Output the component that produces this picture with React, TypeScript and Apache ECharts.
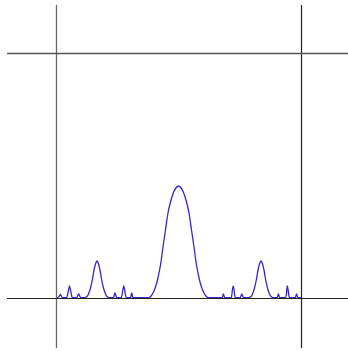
import React, { useEffect, useRef } from "react";
import * as echarts from "echarts";

// Frame (box) limits in data units
const frameX = [-122.5, 122.5];
const frameY = [0, 245];

// Intensity profile: x positions and intensities
const xs = [
  -122.5, -121, -119.5, -118.2, -117, -115.5,
  -112, -111, -110, -109, -108, -107, -106,
  -102, -100.8, -99.8, -98.8, -97.5,
  -94, -91.5, -90, -88, -86, -84.5, -83, -81.5, -80, -78.5, -77, -75, -73, -71.5, -69,
  -65, -64.5, -63.5, -62.5, -61.5,
  -57.5, -56.5, -55.5, -54.8, -54, -53, -52,
  -48, -47.5, -46.8, -46, -45.3,
  -32, -29.5, -27, -25, -23, -21, -18, -15.5, -13, -10.5, -8, -5.2, -2.5,
  0, 2.5, 5.2, 8, 10.5, 13, 15.5, 18, 21, 23, 25, 27, 29.5, 32,
  43.5, 44.2, 44.9, 45.6, 46.3,
  52.5, 53.3, 54, 54.7, 55.4, 56.2, 57,
  61.5, 62.4, 63.3, 64.2, 65,
  70, 72.5, 74, 76, 78, 79.5, 81, 82.5, 84, 85.5, 87, 89, 91, 92.5, 95,
  98.5, 99.2, 99.9, 100.6, 101.3,
  106.8, 107.8, 108.3, 108.9, 109.5, 110.3, 111.3,
  116.8, 117.4, 118.1, 118.8, 119.5,
  122.5,
];
const intensity = [
  0.3, 0.3, 1.5, 3.5, 1.5, 0.3,
  0.3, 3, 8, 12, 8, 3, 0.3,
  0.3, 2, 4, 2, 0.3,
  0.3, 1.5, 4, 10, 19, 28, 34, 37, 34, 28, 19, 10, 4, 1.5, 0.3,
  0.3, 2, 5, 2, 0.3,
  0.3, 3, 9, 12, 9, 3, 0.3,
  0.3, 2, 5, 2, 0.3,
  0.3, 0.5, 2.5, 6, 11, 18, 33, 51, 68, 85, 96, 105, 110,
  112, 110, 105, 96, 85, 68, 51, 33, 18, 11, 6, 2.5, 0.5, 0.3,
  0.3, 2, 4, 2, 0.3,
  0.3, 3, 9, 12, 9, 3, 0.3,
  0.3, 2, 4, 2, 0.3,
  0.3, 1.5, 4, 10, 19, 28, 34, 37, 34, 28, 19, 10, 4, 1.5, 0.3,
  0.3, 2, 4, 2, 0.3,
  0.3, 3, 9, 12, 9, 3, 0.3,
  0.3, 2, 4, 2, 0.3,
  0.3,
];

export default function App() {
  const ref = useRef<HTMLDivElement>(null);
  useEffect(() => {
    if (!ref.current) return;
    const chart = echarts.init(ref.current, null, { renderer: "svg" });
    const data = xs.map((x, i) => [x, intensity[i]]);
    chart.setOption({
      animation: false,
      grid: { left: 7, right: 0, top: 5, bottom: 3 },
      xAxis: {
        type: "value",
        min: frameX[0] - 49,
        max: frameX[1] + 47,
        show: false,
      },
      yAxis: {
        type: "value",
        min: frameY[0] - 50,
        max: frameY[1] + 48,
        show: false,
      },
      series: [
        {
          type: "line",
          data,
          showSymbol: false,
          smooth: 0.3,
          lineStyle: { color: "#3326cc", width: 1.3 },
          z: 3,
          markLine: {
            silent: true,
            symbol: "none",
            label: { show: false },
            data: [
              { xAxis: frameX[0], lineStyle: { color: "#666", width: 1.3, type: "solid" } },
              { xAxis: frameX[1], lineStyle: { color: "#222", width: 1.2, type: "solid" } },
              { yAxis: frameY[0], lineStyle: { color: "#222", width: 1.2, type: "solid" } },
              { yAxis: frameY[1], lineStyle: { color: "#555", width: 1.3, type: "solid" } },
            ],
          },
        },
      ],
    });
    return () => chart.dispose();
  }, []);
  return (
    <div
      ref={ref}
      style={{ position: "fixed", left: 0, top: 0, width: 348, height: 351 }}
    />
  );
}
